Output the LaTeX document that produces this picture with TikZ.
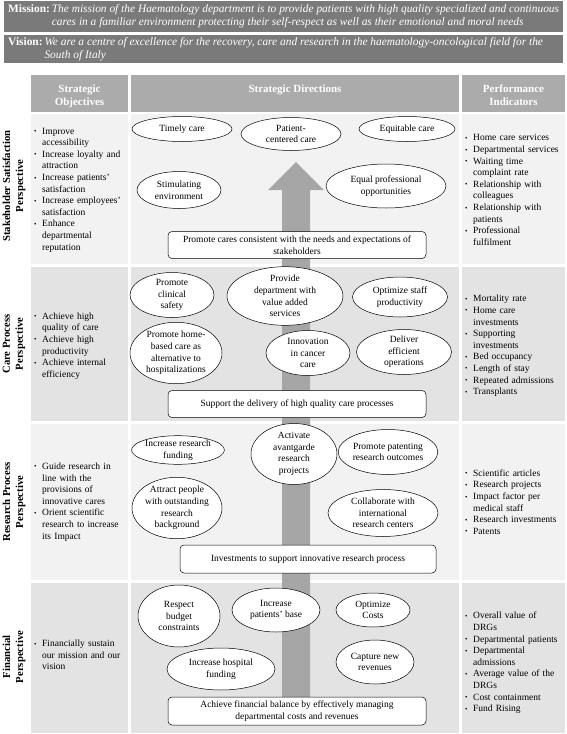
\documentclass[tikz,border=0pt]{standalone}
\usepackage{fontspec}
\setmainfont{Liberation Serif}
\usetikzlibrary{shapes.geometric}

% bullet item with hanging indent
\newcommand{\itm}[1]{\hangindent=8pt\hangafter=1\noindent\makebox[8pt][l]{\raisebox{0.5pt}{\scriptsize\textbullet}}#1\par}

\begin{document}
\begin{tikzpicture}[
  x=1pt, y=-1pt,
  font=\fontsize{9.5}{11.6}\selectfont,
  band/.style      = {fill=black!52, text=white, inner sep=0pt},
  band text/.style = {font=\fontsize{11.4}{13}\selectfont},
  head cell/.style = {fill=black!33},
  head text/.style = {text=white, font=\fontsize{11}{13}\selectfont\bfseries, align=center, anchor=north},
  goal/.style      = {ellipse, draw=black, line width=0.5pt, fill=white, align=center, inner sep=0pt},
  aim/.style       = {draw=black, line width=0.5pt, fill=white, rounded corners=4pt, align=center, inner sep=1pt},
  list/.style      = {anchor=west, align=left, inner sep=0pt},
  row label/.style = {rotate=90, align=center, font=\fontsize{10.7}{13}\selectfont\bfseries},
]
\useasboundingbox (0,0) rectangle (567,734);

% ── Column and row bounds ─────────────────────────────────────────────────
\def\colOL{31}  \def\colOR{128}
\def\colDL{131} \def\colDR{459}
\def\colIL{462} \def\colIR{565}

% ── Mission / Vision bands ────────────────────────────────────────────────
\fill[black!52] (4,1) rectangle (563,32);
\fill[black!52] (4,35) rectangle (563,63);
\node[band, band text, anchor=west] (mission) at (8,16.5) {%
  \begin{tabular}{@{}l@{\,}l@{}}
  \bfseries Mission: &
  \itshape The mission of the Haematology department is to provide patients with high quality specialized and continuous\\
  & \itshape cares in a familiar environment protecting their self-respect as well as their emotional and moral needs
  \end{tabular}};
\node[band, band text, anchor=west] (vision) at (8,49) {%
  \begin{tabular}{@{}l@{\,}l@{}}
  \bfseries Vision: &
  \itshape We are a centre of excellence for the recovery, care and research in the haematology-oncological field for the\\
  & \itshape South of Italy
  \end{tabular}};

% ── Column headers ────────────────────────────────────────────────────────
\fill[head cell] (\colOL,75) rectangle (\colOR,112);
\fill[head cell] (\colDL,75) rectangle (\colDR,112);
\fill[head cell] (\colIL,75) rectangle (\colIR,112);
\node[head text] (hObj) at ({(\colOL+\colOR)/2},81) {Strategic\\Objectives};
\node[head text] (hDir) at ({(\colDL+\colDR)/2},81) {Strategic Directions};
\node[head text] (hInd) at ({(\colIL+\colIR)/2},81) {Performance\\Indicators};

% ── Row cells (light / dark alternate) ────────────────────────────────────
\foreach \top/\bot/\shade in {114/264/5, 267/421/11, 424/580/5, 583/733/11} {
  \fill[black!\shade] (\colOL,\top) rectangle (\colOR,\bot);
  \fill[black!\shade] (\colDL,\top) rectangle (\colDR,\bot);
  \fill[black!\shade] (\colIL,\top) rectangle (\colIR,\bot);
}

% ── Big arrow behind the directions ───────────────────────────────────────
\fill[black!35] (282,706) -- (282,190) -- (268,190) -- (296,162)
  -- (324,190) -- (310,190) -- (310,706) -- cycle;

% ── Row labels ────────────────────────────────────────────────────────────
\node[row label] (lblStake) at (14,186) {Stakeholder Satisfaction\\Perspective};
\node[row label] (lblCare)  at (14,344) {Care Process\\Perspective};
\node[row label] (lblRes)   at (14,502) {Research Process\\Perspective};
\node[row label] (lblFin)   at (14,657) {Financial\\Perspective};

% ── Stakeholder satisfaction ──────────────────────────────────────────────
\node[list, text width=92pt] (objStake) at (34,190) {%
  \itm{Improve\newline accessibility}
  \itm{Increase loyalty and\newline attraction}
  \itm{Increase patients'\newline satisfaction}
  \itm{Increase employees'\newline satisfaction}
  \itm{Enhance\newline departmental\newline reputation}};
\node[list, text width=100pt] (indStake) at (465,190) {%
  \itm{Home care services}
  \itm{Departmental services}
  \itm{Waiting time\newline complaint rate}
  \itm{Relationship with\newline colleagues}
  \itm{Relationship with\newline patients}
  \itm{Professional\newline fulfilment}};

\node[goal, minimum width=100pt, minimum height=25pt] (timely)    at (182,129) {Timely care};
\node[goal, minimum width=100pt, minimum height=33pt] (patient)   at (291,134) {Patient-\\centered care};
\node[goal, minimum width=96pt,  minimum height=25pt] (equitable) at (407,129) {Equitable care};
\node[goal, minimum width=84pt,  minimum height=37pt] (stimul)    at (179,190) {Stimulating\\environment};
\node[goal, minimum width=120pt, minimum height=44pt] (equalopp)  at (386,186) {Equal professional\\opportunities};
\node[aim, minimum width=258pt, minimum height=27pt] (promCares) at (297,245)
  {Promote cares consistent with the needs and expectations of\\stakeholders};

% ── Care process ──────────────────────────────────────────────────────────
\node[list, text width=92pt] (objCare) at (34,346) {%
  \itm{Achieve high\newline quality of care}
  \itm{Achieve high\newline productivity}
  \itm{Achieve internal\newline efficiency}};
\node[list, text width=100pt] (indCare) at (465,346) {%
  \itm{Mortality rate}
  \itm{Home care\newline investments}
  \itm{Supporting\newline investments}
  \itm{Bed occupancy}
  \itm{Length of stay}
  \itm{Repeated admissions}
  \itm{Transplants}};

\node[goal, minimum width=84pt,  minimum height=45pt] (safety)    at (172,295) {Promote\\clinical\\safety};
\node[goal, minimum width=116pt, minimum height=50pt] (valueAdd)  at (285,296) {Provide\\department with\\value added\\services};
\node[goal, minimum width=95pt,  minimum height=40pt] (staffProd) at (400,297) {Optimize staff\\productivity};
\node[goal, minimum width=92pt,  minimum height=53pt] (homeCare)  at (176,353) {Promote home-\\based care as\\alternative to\\hospitalizations};
\node[goal, minimum width=84pt,  minimum height=45pt] (innov)     at (308,353) {Innovation\\in cancer\\care};
\node[goal, minimum width=95pt,  minimum height=45pt] (deliver)   at (404,352) {Deliver\\efficient\\operations};
\node[aim, minimum width=258pt, minimum height=27pt] (suppDel) at (297,404)
  {Support the delivery of high quality care processes};

% ── Research process ──────────────────────────────────────────────────────
\node[list, text width=92pt] (objRes) at (34,502) {%
  \itm{Guide research in\newline line with the\newline provisions of\newline innovative cares}
  \itm{Orient scientific\newline research to increase\newline its Impact}};
\node[list, text width=100pt] (indRes) at (465,502) {%
  \itm{Scientific articles}
  \itm{Research projects}
  \itm{Impact factor per\newline medical staff}
  \itm{Research investments}
  \itm{Patents}};

\node[goal, minimum width=92pt,  minimum height=28pt] (resFund) at (178,450) {Increase research\\funding};
\node[goal, minimum width=86pt,  minimum height=55pt] (avant)   at (294,454) {Activate\\avantgarde\\research\\projects};
\node[goal, minimum width=96pt,  minimum height=45pt] (patent)  at (388,452) {Promote patenting\\research outcomes};
\node[goal, minimum width=90pt,  minimum height=50pt] (attract) at (177,508) {Attract people\\with outstanding\\research\\background};
\node[goal, minimum width=110pt, minimum height=47pt] (collab)  at (383,513) {Collaborate with\\international\\research centers};
\node[aim, minimum width=256pt, minimum height=28pt] (invest) at (308,559)
  {Investments to support innovative research process};

% ── Financial ─────────────────────────────────────────────────────────────
\node[list, text width=92pt] (objFin) at (34,655) {%
  \itm{Financially sustain\newline our mission and our\newline vision}};
\node[list, text width=100pt] (indFin) at (465,663) {%
  \itm{Overall value of\newline DRGs}
  \itm{Departmental patients}
  \itm{Departmental\newline admissions}
  \itm{Average value of the\newline DRGs}
  \itm{Cost containment}
  \itm{Fund Rising}};

\node[goal, minimum width=82pt,  minimum height=62pt] (budget)   at (179,616) {Respect\\budget\\constraints};
\node[goal, minimum width=88pt,  minimum height=44pt] (patBase)  at (276,610) {Increase\\patients' base};
\node[goal, minimum width=74pt,  minimum height=34pt] (optCost)  at (373,610) {Optimize\\Costs};
\node[goal, minimum width=108pt, minimum height=42pt] (hospFund) at (221,669) {Increase hospital\\funding};
\node[goal, minimum width=78pt,  minimum height=44pt] (revenue)  at (375,662) {Capture new\\revenues};
\node[aim, minimum width=258pt, minimum height=28pt] (balance) at (297,711)
  {Achieve financial balance by effectively managing\\departmental costs and revenues};

\end{tikzpicture}
\end{document}
